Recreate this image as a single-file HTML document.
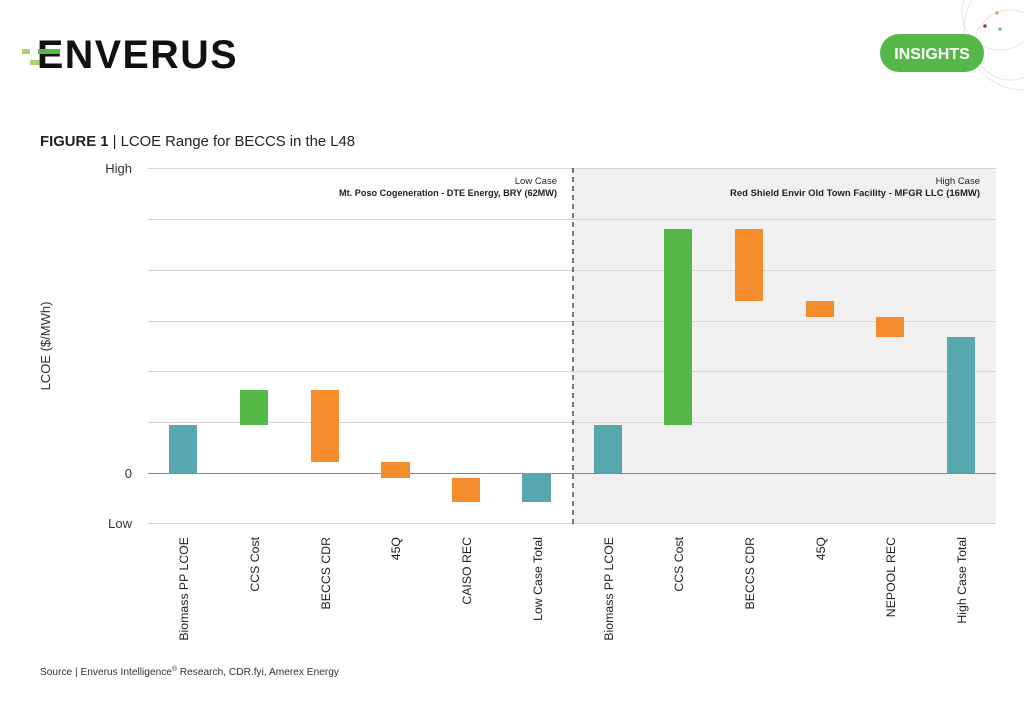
<!DOCTYPE html>
<html><head><meta charset="utf-8"><style>
body{margin:0;background:#fff;width:1024px;height:704px;overflow:hidden;font-family:"Liberation Sans",sans-serif}
</style></head><body>
<svg width="1024" height="704" xmlns="http://www.w3.org/2000/svg" font-family="Liberation Sans, sans-serif">
<g fill="none" stroke="#e6e6e6" stroke-width="1">
<circle cx="1000" cy="12" r="38"/><circle cx="1010" cy="45" r="35"/><circle cx="1024" cy="30" r="60"/>
</g>
<circle cx="997" cy="13" r="1.5" fill="#f58c2c"/><circle cx="985" cy="26" r="1.8" fill="#9b2c9b"/><circle cx="1000" cy="29" r="1.5" fill="#55b849"/>
<rect x="22" y="49" width="8" height="5" fill="#a8d66b"/>
<rect x="30" y="60" width="10" height="5" fill="#a8d66b"/>
<text x="37" y="68" font-size="40" font-weight="bold" fill="#111" letter-spacing="1.5" textLength="201" lengthAdjust="spacingAndGlyphs">ENVERUS</text>
<rect x="38" y="49" width="22" height="5" fill="#55b849"/>
<rect x="880" y="34" width="104" height="38" rx="19" fill="#55b849"/>
<text x="932" y="59" font-size="16" font-weight="bold" fill="#fff" text-anchor="middle">INSIGHTS</text>
<text x="40" y="146" font-size="15" fill="#222" textLength="315" lengthAdjust="spacingAndGlyphs"><tspan font-weight="bold">FIGURE 1</tspan> | LCOE Range for BECCS in the L48</text>
<rect x="573" y="168" width="423" height="356" fill="#f1f1f1"/>
<g stroke="#d4d4d4" stroke-width="1">
<line x1="148" x2="996" y1="168.5" y2="168.5"/><line x1="148" x2="996" y1="219.5" y2="219.5"/>
<line x1="148" x2="996" y1="270.5" y2="270.5"/><line x1="148" x2="996" y1="321.5" y2="321.5"/>
<line x1="148" x2="996" y1="371.5" y2="371.5"/><line x1="148" x2="996" y1="422.5" y2="422.5"/>
<line x1="148" x2="996" y1="523.5" y2="523.5"/>
</g>
<line x1="148" x2="996" y1="473.5" y2="473.5" stroke="#888"/>
<g font-size="13" fill="#333" text-anchor="end">
<text x="132" y="173">High</text><text x="132" y="478">0</text><text x="132" y="528">Low</text>
</g>
<text transform="translate(50,346) rotate(-90)" font-size="13" fill="#333" text-anchor="middle">LCOE ($/MWh)</text>
<g fill="#58a8b0"><rect x="169" y="425" width="28" height="48"/><rect x="522" y="473" width="29" height="29"/><rect x="594" y="425" width="28" height="48"/><rect x="947" y="337" width="28" height="136"/></g>
<g fill="#55b849"><rect x="240" y="390" width="28" height="35"/><rect x="664" y="229" width="28" height="196"/></g>
<g fill="#f58c2c"><rect x="311" y="390" width="28" height="72"/><rect x="381" y="462" width="29" height="16"/><rect x="452" y="478" width="28" height="24"/>
<rect x="735" y="229" width="28" height="72"/><rect x="806" y="301" width="28" height="16"/><rect x="876" y="317" width="28" height="20"/></g>
<line x1="573" x2="573" y1="168" y2="524" stroke="#333" stroke-width="1.3" stroke-dasharray="5,4"/>
<g font-size="9.5" fill="#222" text-anchor="end">
<text x="557" y="184">Low Case</text><text x="557" y="196" font-weight="bold" textLength="218" lengthAdjust="spacingAndGlyphs">Mt. Poso Cogeneration - DTE Energy, BRY (62MW)</text>
<text x="980" y="184">High Case</text><text x="980" y="196" font-weight="bold">Red Shield Envir Old Town Facility - MFGR LLC (16MW)</text>
</g>
<g font-size="12.3" fill="#222" text-anchor="end">
<text transform="translate(188,537) rotate(-90)">Biomass PP LCOE</text>
<text transform="translate(259,537) rotate(-90)">CCS Cost</text>
<text transform="translate(330,537) rotate(-90)">BECCS CDR</text>
<text transform="translate(400,537) rotate(-90)">45Q</text>
<text transform="translate(471,537) rotate(-90)">CAISO REC</text>
<text transform="translate(542,537) rotate(-90)">Low Case Total</text>
<text transform="translate(613,537) rotate(-90)">Biomass PP LCOE</text>
<text transform="translate(683,537) rotate(-90)">CCS Cost</text>
<text transform="translate(754,537) rotate(-90)">BECCS CDR</text>
<text transform="translate(825,537) rotate(-90)">45Q</text>
<text transform="translate(895,537) rotate(-90)">NEPOOL REC</text>
<text transform="translate(966,537) rotate(-90)">High Case Total</text>
</g>
<text x="40" y="675" font-size="10.5" fill="#333" textLength="299" lengthAdjust="spacingAndGlyphs">Source | Enverus Intelligence<tspan font-size="7" dy="-4">®</tspan><tspan dy="4"> Research, CDR.fyi, Amerex Energy</tspan></text>
</svg>
</body></html>
